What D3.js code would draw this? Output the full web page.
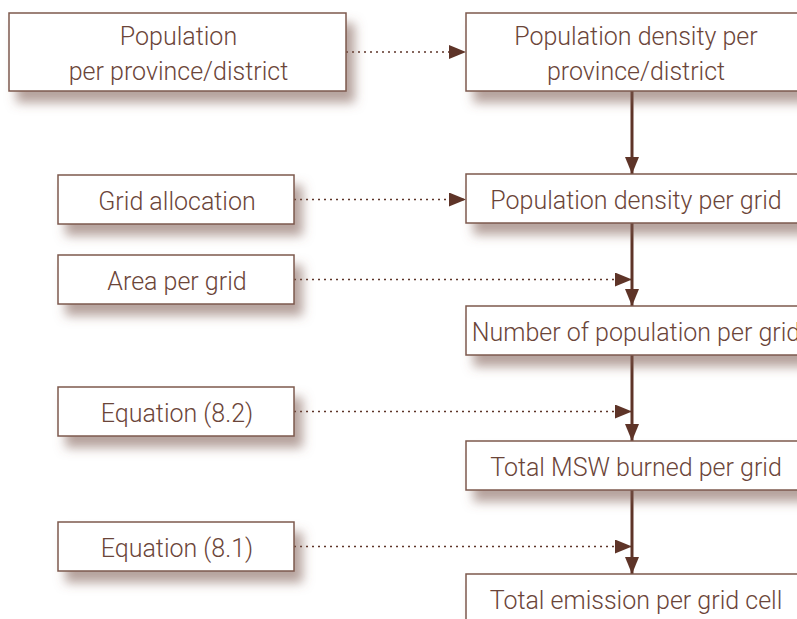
<!DOCTYPE html>
<html>
<head>
<meta charset="utf-8">
<script src="https://cdn.jsdelivr.net/npm/d3@7"></script>
<style>
  html, body { margin: 0; padding: 0; background: #fff; overflow: hidden; }
  svg { display: block; }
</style>
</head>
<body>
<svg id="svg" width="797" height="619"></svg>
<script>
// flowchart content
const inputLabels = [
    ["Population", "per province/district"],
    ["Grid allocation"],
    ["Area per grid"],
    ["Equation (8.2)"],
    ["Equation (8.1)"]
];
const stepLabels = [
    ["Population density per", "province/district"],
    ["Population density per grid"],
    ["Number of population per grid"],
    ["Total MSW burned per grid"],
    ["Total emission per grid cell"]
];
// where each input feeds in: straight into a step box, or onto the arrow above a step
const inputTargets = ["box", "box", "stem", "stem", "stem"];

const width = 797, height = 619;
const boxStroke = "#7d5a4e", textColor = "#6b4539", arrowColor = "#5e3428";

// layout (rows are not evenly spaced in the original)
const inputTop = d3.scaleOrdinal().domain(d3.range(5)).range([13, 175, 255, 387, 522]);
const stepTop = d3.scaleOrdinal().domain(d3.range(5)).range([13, 174, 306, 441, 574]);
const rowH = lines => lines.length > 1 ? 78 : 49;
const inputX = d3.scaleOrdinal().domain([1, 2]).range([58, 9]);   // by number of lines
const inputW = d3.scaleOrdinal().domain([1, 2]).range([236, 337]);
const stepX = 466, stepW = 338, stemX = 632;

const svg = d3.select("#svg");
const defs = svg.append("defs");

const shadow = defs.append("filter").attr("id", "shadow")
    .attr("x", "-20%").attr("y", "-30%").attr("width", "150%").attr("height", "200%");
shadow.append("feDropShadow")
    .attr("dx", 8).attr("dy", 11).attr("stdDeviation", 5.5)
    .attr("flood-color", "#7a564c").attr("flood-opacity", 0.55);

function marker(id) {
    defs.append("marker").attr("id", id)
        .attr("viewBox", "0 0 17 14").attr("refX", 17).attr("refY", 7)
        .attr("markerWidth", 17).attr("markerHeight", 14)
        .attr("markerUnits", "userSpaceOnUse").attr("orient", "auto")
        .append("path").attr("d", "M0,0L17,7L0,14Z").attr("fill", arrowColor);
}
marker("head");

function drawBox(g, x, y, w, lines) {
    const h = rowH(lines);
    g.append("rect")
        .attr("x", x).attr("y", y).attr("width", w).attr("height", h)
        .attr("fill", "#fff").attr("stroke", boxStroke).attr("stroke-width", 1.5)
        .attr("filter", "url(#shadow)");
    const cx = x + w / 2 + 1;
    const text = g.append("text")
        .attr("text-anchor", "middle")
        .attr("fill", textColor)
        .style("font-family", "Roboto, 'Helvetica Neue', sans-serif")
        .style("font-weight", 300)
        .style("font-size", "25px");
    if (lines.length > 1) {
        text.append("tspan").attr("x", cx).attr("y", y + 32).text(lines[0]);
        text.append("tspan").attr("x", cx).attr("y", y + 67).text(lines[1]);
    } else {
        text.append("tspan").attr("x", cx).attr("y", y + h / 2 + 10.5).text(lines[0]);
    }
}

const links = svg.append("g");
const boxes = svg.append("g");

// main vertical flow
stepLabels.forEach((lines, i) => {
    if (i === 0) return;
    const prev = stepLabels[i - 1];
    links.append("line")
        .attr("x1", stemX).attr("y1", stepTop(i - 1) + rowH(prev))
        .attr("x2", stemX).attr("y2", stepTop(i))
        .attr("stroke", arrowColor).attr("stroke-width", 3)
        .attr("marker-end", "url(#head)");
});

// dotted inputs
inputLabels.forEach((lines, i) => {
    const n = lines.length;
    const y = inputTop(i) + rowH(lines) / 2;
    const x1 = inputX(n) + inputW(n);
    const x2 = inputTargets[i] === "box" ? stepX : stemX;
    links.append("line")
        .attr("x1", x1).attr("y1", y).attr("x2", x2).attr("y2", y)
        .attr("stroke", arrowColor).attr("stroke-width", 1.6)
        .attr("stroke-dasharray", "2,4")
        .attr("marker-end", "url(#head)");
});

inputLabels.forEach((lines, i) => {
    drawBox(boxes.append("g"), inputX(lines.length), inputTop(i), inputW(lines.length), lines);
});
stepLabels.forEach((lines, i) => {
    drawBox(boxes.append("g"), stepX, stepTop(i), stepW, lines);
});
</script>
</body>
</html>
